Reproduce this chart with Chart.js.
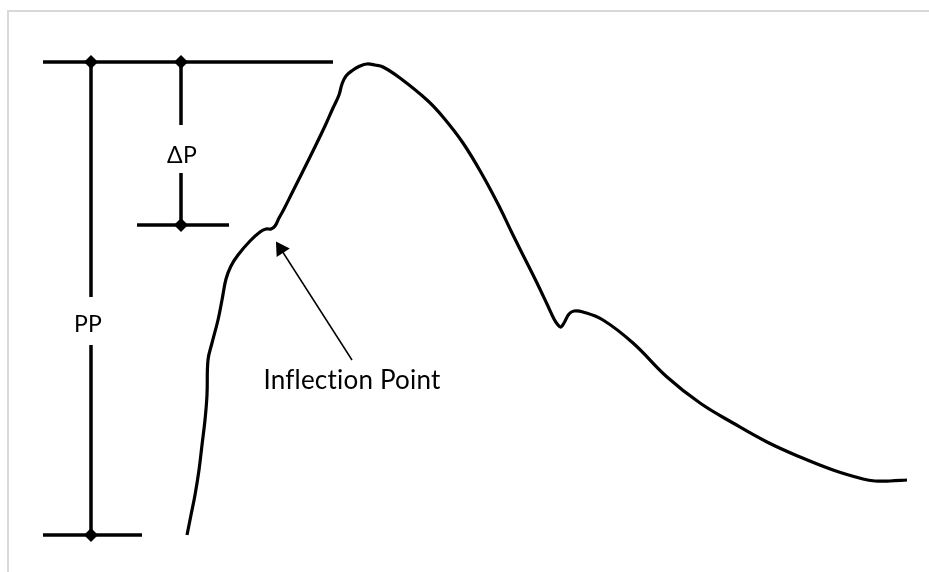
<!DOCTYPE html>
<html>
<head>
<meta charset="utf-8">
<script src="https://cdn.jsdelivr.net/npm/chart.js@4"></script>
<style>
  body { margin: 0; background: #fff; }
  #wrap { position: relative; width: 929px; height: 572px; overflow: hidden; }
  #frame { position: absolute; left: 7px; top: 10px; width: 940px; height: 600px; border: 2px solid #d9d9d9; box-sizing: border-box; }
  #chartCanvas { position: absolute; left: 0; top: 0; }
</style>
</head>
<body>
<div id="wrap">
  <div id="frame"></div>
  <canvas id="chartCanvas" width="929" height="572"></canvas>
</div>
<script>
// pressure waveform, time in ms from the foot, pressure in mmHg
var timeMs = [0, 4, 8, 12, 15, 18, 20, 21, 25, 31, 35, 39, 44, 51, 63, 73, 79, 84, 88, 92, 97, 105,
  123, 138, 146, 152, 155, 159, 166, 173, 180, 188, 196, 213, 240, 256, 276, 296, 313, 326, 338,
  350, 360, 367, 371, 374, 377, 382, 387, 396, 416, 446, 480, 513, 546, 580, 613, 646, 676, 688, 703, 720];
var pressure = [80.0, 82.0, 84.0, 86.5, 89.0, 91.5, 94.0, 97.5, 99.2, 101.5, 103.5, 105.6, 106.9, 108.0,
  109.4, 110.3, 110.6, 110.6, 110.9, 111.7, 112.6, 114.2, 117.8, 120.9, 122.7, 124.0, 125.1, 125.9,
  126.5, 126.9, 127.1, 127.0, 126.8, 125.7, 123.5, 121.8, 119.2, 115.9, 112.7, 110.0, 107.6,
  105.2, 103.1, 101.6, 101.0, 100.8, 101.2, 102.1, 102.4, 102.3, 101.5, 99.2, 95.8, 93.2, 91.2, 89.3, 87.8,
  86.5, 85.6, 85.4, 85.4, 85.5];

// annotation levels
var systolicLevel = 127.3;
var diastolicLevel = 80.0;
var inflectionLevel = 111.0;
var ppLineTime = -96;
var dpLineTime = -6;

// bracket segments [[t0, p0], [t1, p1]]
var bracketSegments = [
  [[-144, systolicLevel], [146, systolicLevel]],
  [[-144, diastolicLevel], [-45, diastolicLevel]],
  [[-50, inflectionLevel], [42, inflectionLevel]],
  [[ppLineTime, systolicLevel], [ppLineTime, 103.8]],
  [[ppLineTime, 99.0], [ppLineTime, diastolicLevel]],
  [[dpLineTime, systolicLevel], [dpLineTime, 121.0]],
  [[dpLineTime, 116.2], [dpLineTime, inflectionLevel]]
];
var bracketMarkers = [[ppLineTime, systolicLevel], [dpLineTime, systolicLevel],
  [ppLineTime, diastolicLevel], [dpLineTime, inflectionLevel]];

// arrow from label to inflection point
var arrowTail = [165, 97.5];
var arrowHead = [93.8, 108.6];

// labels [text, t, p (baseline), size]
var labels = [
  ['\u0394P', -5, 117.2, 23],
  ['PP', -99, 100.3, 23],
  ['Inflection Point', 165, 94.6, 26]
];

function pts(list) {
  return list.map(function(p) { return { x: p[0], y: p[1] }; });
}

var datasets = [{
  data: timeMs.map(function(t, i) { return { x: t, y: pressure[i] }; }),
  borderColor: '#000',
  borderWidth: 3.2,
  tension: 0.4,
  pointRadius: 0,
  fill: false
}];

bracketSegments.forEach(function(seg) {
  datasets.push({
    data: pts(seg),
    borderColor: '#000',
    borderWidth: 3.5,
    borderCapStyle: 'butt',
    pointRadius: 0,
    tension: 0
  });
});

datasets.push({
  data: pts(bracketMarkers),
  showLine: false,
  pointStyle: 'rectRot',
  pointRadius: 7,
  pointBackgroundColor: '#000',
  pointBorderColor: '#000',
  pointBorderWidth: 0
});

datasets.push({
  data: pts([arrowTail, arrowHead]),
  borderColor: '#000',
  borderWidth: 1.5,
  tension: 0,
  pointStyle: 'triangle',
  pointRotation: -32.6,
  pointRadius: [0, 9],
  pointBackgroundColor: '#000',
  pointBorderColor: '#000',
  pointBorderWidth: 0
});

var labelPlugin = {
  id: 'labelPlugin',
  afterDatasetsDraw: function(chart) {
    var ctx = chart.ctx;
    var xs = chart.scales.x, ys = chart.scales.y;
    ctx.save();
    ctx.fillStyle = '#000';
    ctx.textAlign = 'center';
    ctx.textBaseline = 'alphabetic';
    ctx.letterSpacing = '0.2px'; // keeps "fl" from turning into a ligature
    labels.forEach(function(l) {
      ctx.font = l[3] + 'px Lato';
      ctx.fillText(l[0], xs.getPixelForValue(l[1]), ys.getPixelForValue(l[2]));
    });
    ctx.restore();
  }
};

var ctx = document.getElementById('chartCanvas').getContext('2d');
var myChart = new Chart(ctx, {
  type: 'line',
  data: { datasets: datasets },
  options: {
    responsive: false,
    animation: false,
    layout: { padding: 0, autoPadding: false },
    plugins: { legend: { display: false }, tooltip: { enabled: false } },
    scales: {
      x: { type: 'linear', min: -187, max: 742, display: false },
      y: { type: 'linear', min: 76.3, max: 133.5, display: false }
    }
  },
  plugins: [labelPlugin]
});
</script>
</body>
</html>
